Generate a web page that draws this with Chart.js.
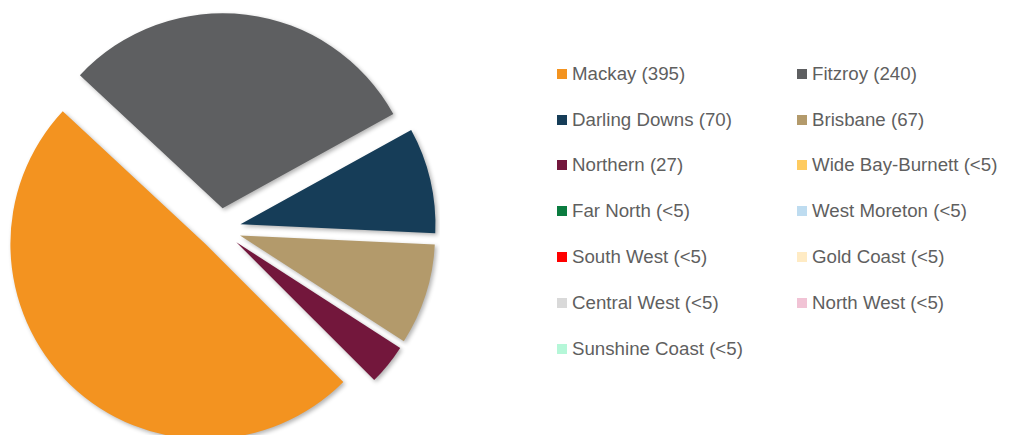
<!DOCTYPE html>
<html>
<head>
<meta charset="utf-8">
<script src="https://cdn.jsdelivr.net/npm/chart.js@4/dist/chart.umd.min.js"></script>
<style>
  body { margin: 0; background: #fff; width: 1010px; height: 435px; overflow: hidden; position: relative; }
  #chartBox { position: absolute; left: 0; top: 0; width: 440px; height: 435px; }
  #legend {
    position: absolute; left: 557px; top: 51px;
    display: grid; grid-template-columns: 240px 220px; grid-auto-rows: 45.8px;
    font-family: "Liberation Sans", Arial, sans-serif; font-size: 18.7px; color: #5f5f5f;
  }
  .item { display: flex; align-items: center; white-space: nowrap; }
  .box { width: 10px; height: 10px; margin-right: 5px; flex: none; }
</style>
</head>
<body>
<div id="chartBox"><canvas id="pie"></canvas></div>
<div id="legend"></div>
<script>
// regions and counts (the "<5" regions don't show up as visible slices)
const regions = ['Mackay', 'Fitzroy', 'Darling Downs', 'Brisbane', 'Northern',
  'Wide Bay-Burnett', 'Far North', 'West Moreton', 'South West', 'Gold Coast',
  'Central West', 'North West', 'Sunshine Coast'];
const counts = [395, 240, 70, 67, 27, 0, 0, 0, 0, 0, 0, 0, 0];
const countLabels = ['395', '240', '70', '67', '27', '<5', '<5', '<5', '<5', '<5', '<5', '<5', '<5'];
const colors = ['#F39320', '#5E5F61', '#163D58', '#B39A6B', '#73173C',
  '#FECB60', '#0B7C40', '#BEDCF0', '#FF0000', '#FFEBC4',
  '#D9D9D9', '#F1C3D5', '#B5F7D8'];

const explode = 21; // px every slice is pulled out from the centre

// Chart.js' own offset also grows the radius of the slice, so instead
// push each arc's centre out along its middle angle after layout
const explodeSlices = {
  id: 'explodeSlices',
  afterUpdate(chart) {
    chart.getDatasetMeta(0).data.forEach(arc => {
      const mid = (arc.startAngle + arc.endAngle) / 2;
      arc.x += Math.cos(mid) * explode;
      arc.y += Math.sin(mid) * explode;
    });
  }
};

// soft drop shadow under the slices
const shadow = {
  id: 'shadow',
  beforeDatasetsDraw(chart) {
    const ctx = chart.ctx;
    ctx.save();
    ctx.shadowColor = 'rgba(0,0,0,0.3)';
    ctx.shadowBlur = 4;
    ctx.shadowOffsetX = 2;
    ctx.shadowOffsetY = 2;
  },
  afterDatasetsDraw(chart) {
    chart.ctx.restore();
  }
};

new Chart(document.getElementById('pie'), {
  type: 'pie',
  data: {
    labels: regions,
    datasets: [{
      data: counts,
      backgroundColor: colors,
      borderWidth: 0,
      hoverBorderWidth: 0,
      offset: 0,
      hoverOffset: 0,
    }],
  },
  options: {
    responsive: true,
    maintainAspectRatio: false,
    animation: false,
    events: [],
    rotation: 135,
    radius: 195,
    layout: { padding: { top: 23 } },
    plugins: {
      legend: { display: false },
      tooltip: { enabled: false },
    },
  },
  plugins: [explodeSlices, shadow],
});

// two-column legend, filled row by row
const legend = document.getElementById('legend');
regions.forEach((name, i) => {
  const item = document.createElement('div');
  item.className = 'item';
  item.innerHTML = '<span class="box" style="background:' + colors[i] + '"></span>' +
    name + ' (' + countLabels[i].replace('<', '&lt;') + ')';
  legend.appendChild(item);
});
</script>
</body>
</html>
